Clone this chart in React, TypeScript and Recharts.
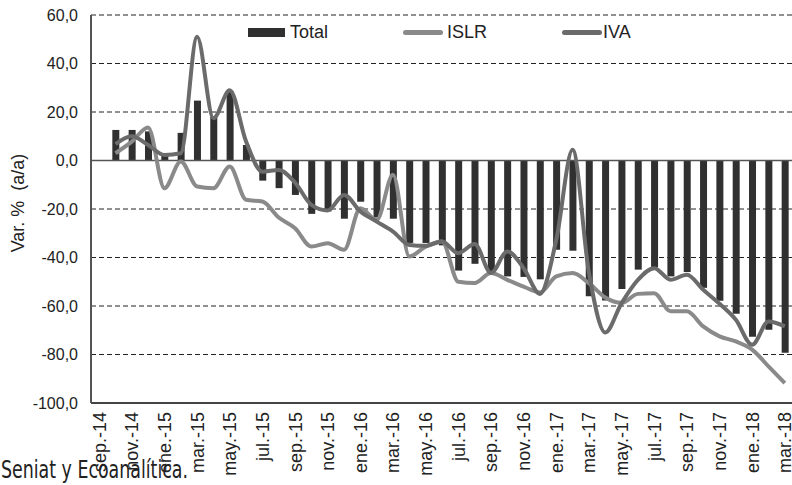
import React from "react";
import {
  ComposedChart,
  Bar,
  Line,
  XAxis,
  YAxis,
  CartesianGrid,
  ReferenceLine,
} from "recharts";

const MONTHS = [
  "sep.-14", "oct.-14", "nov.-14", "dic.-14",
  "ene.-15", "feb.-15", "mar.-15", "abr.-15", "may.-15", "jun.-15",
  "jul.-15", "ago.-15", "sep.-15", "oct.-15", "nov.-15", "dic.-15",
  "ene.-16", "feb.-16", "mar.-16", "abr.-16", "may.-16", "jun.-16",
  "jul.-16", "ago.-16", "sep.-16", "oct.-16", "nov.-16", "dic.-16",
  "ene.-17", "feb.-17", "mar.-17", "abr.-17", "may.-17", "jun.-17",
  "jul.-17", "ago.-17", "sep.-17", "oct.-17", "nov.-17", "dic.-17",
  "ene.-18", "feb.-18", "mar.-18",
];

const TOTAL = [
  null, 12.6, 12.6, 12, 3, 11.4, 24.7, 18, 28.5, 6.4,
  -8.3, -11.4, -14.2, -22, -21, -24, -17, -23.5, -24,
  -34, -34, -35, -45.4, -42.6, -46.3, -47.8, -48, -49,
  -36.8, -37.2, -56, -57.7, -53, -45, -44, -47.8, -46,
  -52.5, -57.8, -63.2, -72.7, -69.8, -79.3,
];

const ISLR = [
  null, 3, 7.8, 13.6, -11.4, -0.4, -10.7, -11.4, -2.5, -16.2,
  -16.9, -23.5, -27.9, -35.5, -34.1, -36.8, -19.7, -24.5, -5.9,
  -39.6, -35.5, -33.4, -50, -50.5, -46.4, -49.2, -52, -54.4,
  -47.8, -46.4, -50.6, -56.5, -58.7, -55, -54.7, -62.2, -62.2,
  -68.4, -72.5, -74.6, -78, -84.9, -91.8,
];

const IVA = [
  null, 6.8, 10, 6.4, 2.3, 3, 51, 17.4, 29, 7.8,
  -4.6, -3.9, -9.1, -18.3, -20.6, -14.2, -21, -25.2, -29.3,
  -34.8, -35.2, -33.4, -38.2, -34.4, -46.4, -37.5, -44.4, -55,
  -32.7, 4.4, -46.3, -70.9, -58.8, -49.2, -44.4, -49.2, -47.1,
  -53.3, -59.1, -65.7, -76, -66.4, -68.4,
];

const Y_TICKS = [-100, -80, -60, -40, -20, 0, 20, 40, 60];

const FONT = "'Liberation Sans', Arial, sans-serif";
const BAR_COLOR = "#303030";
const ISLR_COLOR = "#8a8a8a";
const IVA_COLOR = "#6b6b6b";

const data = MONTHS.map((month, i) => ({
  month,
  total: TOTAL[i],
  islr: ISLR[i],
  iva: IVA[i],
}));

const fmt = (v: number) => v.toFixed(1).replace(".", ",");

function MonthTick({ x, y, payload }: any) {
  return (
    <text
      x={x}
      y={y}
      transform={`rotate(-90, ${x}, ${y})`}
      textAnchor="end"
      dy="0.36em"
      fontSize={18}
      fontFamily={FONT}
      fill="#222"
    >
      {payload.value}
    </text>
  );
}

export default function App() {
  return (
    <div
      style={{
        position: "absolute",
        left: 0,
        top: 0,
        width: 792,
        height: 485,
        overflow: "hidden",
        background: "#fff",
      }}
    >
      <ComposedChart
        width={800}
        height={485}
        data={data}
        margin={{ top: 15, right: 7, bottom: 0, left: 0 }}
      >
        <CartesianGrid
          vertical={false}
          stroke="#222"
          strokeDasharray="5 3"
        />
        <XAxis
          dataKey="month"
          interval={1}
          height={82}
          tickLine={false}
          tickSize={0}
          tickMargin={9}
          axisLine={{ stroke: "#444", strokeWidth: 2 }}
          tick={<MonthTick />}
        />
        <YAxis
          width={91}
          domain={[-100, 60]}
          ticks={Y_TICKS}
          tickFormatter={fmt}
          tickLine={false}
          tickSize={0}
          tickMargin={13}
          axisLine={{ stroke: "#555", strokeWidth: 2 }}
          tick={{ fontSize: 16, fontFamily: FONT, fill: "#222" }}
        />
        <ReferenceLine y={0} stroke="#555" strokeWidth={1.5} />
        <Bar
          dataKey="total"
          fill={BAR_COLOR}
          barSize={7}
          isAnimationActive={false}
        />
        <Line
          dataKey="islr"
          type="monotone"
          stroke={ISLR_COLOR}
          strokeWidth={4}
          dot={false}
          isAnimationActive={false}
        />
        <Line
          dataKey="iva"
          type="monotone"
          stroke={IVA_COLOR}
          strokeWidth={4}
          dot={false}
          isAnimationActive={false}
        />
      </ComposedChart>

      {/* legend */}
      <div
        style={{
          position: "absolute",
          left: 0,
          top: 0,
          width: 792,
          height: 60,
          fontFamily: FONT,
          fontSize: 18,
          color: "#222",
        }}
      >
        <div style={{ position: "absolute", left: 248, top: 28, width: 37, height: 9, background: BAR_COLOR }} />
        <span style={{ position: "absolute", left: 290, top: 22, lineHeight: "21px" }}>Total</span>
        <div style={{ position: "absolute", left: 403, top: 30, width: 40, height: 5, borderRadius: 3, background: ISLR_COLOR }} />
        <span style={{ position: "absolute", left: 447, top: 22, lineHeight: "21px" }}>ISLR</span>
        <div style={{ position: "absolute", left: 562, top: 30, width: 40, height: 5, borderRadius: 3, background: IVA_COLOR }} />
        <span style={{ position: "absolute", left: 603, top: 22, lineHeight: "21px" }}>IVA</span>
      </div>

      <svg
        width={792}
        height={485}
        style={{ position: "absolute", left: 0, top: 0, pointerEvents: "none" }}
      >
        <text
          x={0}
          y={0}
          transform="translate(24, 203) rotate(-90)"
          textAnchor="middle"
          fontSize={18}
          fontFamily={FONT}
          fill="#222"
        >
          {"Var. %\u00A0\u00A0(a/a)"}
        </text>
        <text
          x={1}
          y={478}
          fontSize={24}
          fontFamily="'Liberation Sans Narrow', 'DejaVu Sans Condensed', sans-serif"
          fill="#222"
          textLength={187}
          lengthAdjust="spacingAndGlyphs"
        >
          Seniat y Ecoanalítica.
        </text>
      </svg>
    </div>
  );
}
